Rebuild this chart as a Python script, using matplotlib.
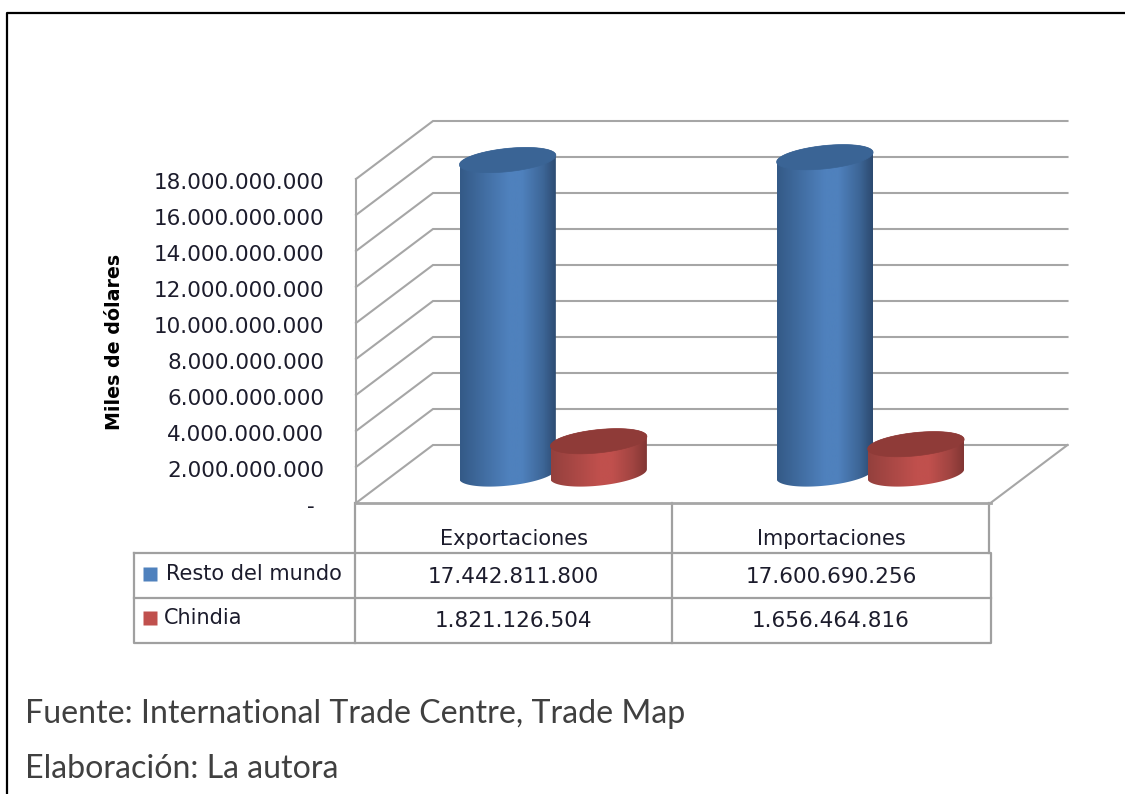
import numpy as np
import matplotlib
matplotlib.use('Agg')
import matplotlib.pyplot as plt
from matplotlib.patches import Polygon
from matplotlib.colors import LinearSegmentedColormap
from matplotlib.ticker import FuncFormatter
from matplotlib.transforms import ScaledTranslation

## data
categorias = ['Exportaciones', 'Importaciones']
resto_mundo = [17442811800, 17600690256]
chindia = [1821126504, 1656464816]
series_nombres = ['Resto del mundo', 'Chindia']
ticks = list(range(0, 18000000001, 2000000000))
eje_titulo = 'Miles de dólares'
fuente = 'Fuente: International Trade Centre, Trade Map'
elaboracion = 'Elaboración: La autora'

W, H = 1125, 794
TICK_FONT = 'DejaVu Sans'
NOTE_FONT = 'Lato'
TEXT_C = '#1c1c2c'


def box(x0, y_top, x1, y_bottom):
    # pixel box to figure fractions
    return [x0 / W, 1 - y_bottom / H, (x1 - x0) / W, (y_bottom - y_top) / H]


def miles(v, pos):
    if v == 0:
        return '-'
    return f'{int(v):,}'.replace(',', '.')


fig = plt.figure(figsize=(W / 100, H / 100), dpi=100, facecolor='white')

# page layer: frame, table, notes (in pixels)
page = fig.add_axes([0, 0, 1, 1], zorder=0)
page.set_xlim(0, W)
page.set_ylim(H, 0)
page.axis('off')
page.plot([7, 7, W], [H, 13, 13], color='black', lw=1.6)

# mid plane of the 3d box, cylinders stand on it
ax = fig.add_axes(box(394.5, 114, 1029, 510), zorder=2)
ax.set_xlim(0, 2)
ax.set_ylim(-2e9, 20e9)
ax.axis('off')
ux = 2 / 634.5
uy = 18e9 / 324
depth_x = 38.5 * ux
depth_y = 29 * uy

grid_c = '#a6a6a6'
for v in ticks:
    ax.plot([-depth_x, depth_x, 2 + depth_x], [v - depth_y, v + depth_y, v + depth_y],
            color=grid_c, lw=1.5, clip_on=False, zorder=1, solid_joinstyle='miter')
ax.plot([2 - depth_x, 2 + depth_x], [-depth_y, depth_y], color=grid_c, lw=1.5, clip_on=False, zorder=1)
ax.plot([-depth_x, 2 - depth_x], [-depth_y, -depth_y], color=grid_c, lw=2, clip_on=False, zorder=1)

# front axis with the tick labels
front = fig.add_axes(box(356, 179, 990.5, 503), zorder=1)
front.set_xlim(0, 2)
front.set_ylim(0, 18e9)
front.patch.set_alpha(0)
for s in ['top', 'right', 'bottom']:
    front.spines[s].set_visible(False)
front.spines['left'].set_color(grid_c)
front.spines['left'].set_linewidth(1.5)
front.set_xticks([])
front.set_yticks(ticks)
front.yaxis.set_major_formatter(FuncFormatter(miles))
front.tick_params(axis='y', length=0, pad=23, labelsize=15.5, labelcolor=TEXT_C)
for v, t in zip(ticks, front.get_yticklabels()):
    t.set_family(TICK_FONT)
    # labels sit a little lower than the lines, the dash further left
    shift = -9 if v == 0 else 0
    t.set_transform(t.get_transform() + ScaledTranslation(shift / 100, -2 / 100, fig.dpi_scale_trans))
page.text(114, 342, eje_titulo, rotation=90, ha='center', va='center', family=TICK_FONT,
          fontweight='bold', fontsize=13.7, color='black')

# cylinders
A, B, TILT = 48.5, 11.6, np.radians(6)
half_w = 48
t0 = np.arctan2(-B * np.sin(TILT), A * np.cos(TILT))


def elipse(cx, cy, t):
    # offsets are worked out in pixels then taken to data units
    dx = A * np.cos(t) * np.cos(TILT) - B * np.sin(t) * np.sin(TILT)
    dy = A * np.cos(t) * np.sin(TILT) + B * np.sin(t) * np.cos(TILT)
    return np.column_stack([cx + dx * ux, cy + dy * uy])


def cilindro(cat, offset, valor, stops, tapa, z):
    cx = cat + 0.5 + offset
    t_up = np.linspace(t0, t0 + np.pi, 80)
    t_down = np.linspace(t0 + np.pi, t0 + 2 * np.pi, 80)
    contorno = np.vstack([elipse(cx, 0, t_down), elipse(cx, valor, t_up)])
    cuerpo = Polygon(contorno, closed=True, transform=ax.transData, fc='none', ec='none')
    ax.add_patch(cuerpo)
    cmap = LinearSegmentedColormap.from_list('c', stops)
    half = half_w * ux
    img = ax.imshow(np.linspace(0, 1, 200).reshape(1, -1), cmap=cmap, aspect='auto',
                    extent=[cx - half, cx + half, -2e9, 20e9], zorder=z, interpolation='bilinear')
    img.set_clip_path(cuerpo)
    ax.add_patch(Polygon(elipse(cx, valor, np.linspace(0, 2 * np.pi, 120)), closed=True,
                         fc=tapa, ec=tapa, lw=0.5, zorder=z + 0.1, clip_on=False))


azul = [(0, '#345a87'), (0.5, '#4f81bd'), (0.64, '#4f81bd'), (0.86, '#3d6697'), (1, '#2c4a70')]
rojo = [(0, '#94403d'), (0.5, '#c0504d'), (0.64, '#c0504d'), (0.86, '#a04441'), (1, '#823634')]
for i in range(len(categorias)):
    cilindro(i, -0.1435, resto_mundo[i], azul, '#3a6495', 3 + i)
    cilindro(i, 0.1435, chindia[i], rojo, '#8f3b38', 3.5 + i)
ax.set_xlim(0, 2)
ax.set_ylim(-2e9, 20e9)

# data table
tab_c = '#a0a0a0'
col_x = [355, 672, 990]
page.plot([355, 355], [503, 643], color=tab_c, lw=1.6)
page.plot([672, 672], [503, 643], color=tab_c, lw=1.6)
page.plot([989, 989], [503, 553], color=tab_c, lw=1.6)
page.plot([134, 991, 991, 134, 134], [553, 553, 643, 643, 553], color=tab_c, lw=1.6)
page.plot([134, 991], [598, 598], color=tab_c, lw=1.6)
filas_y = [575, 619]
series = [resto_mundo, chindia]
colores = ['#4f81bd', '#c0504d']
label_x = [166, 164]
for k, nombre in enumerate(series_nombres):
    page.plot([150], [filas_y[k] - 1.5], marker='s', ms=10.5, color=colores[k], mec='none')
    page.text(label_x[k], filas_y[k] - 1, nombre, ha='left', va='center', family=TICK_FONT,
              fontsize=15, color=TEXT_C)
    for j in range(len(categorias)):
        page.text((col_x[j] + col_x[j + 1]) / 2, filas_y[k] + 2, miles(series[k][j], 0), ha='center', va='center',
                  family=TICK_FONT, fontsize=15.5, color=TEXT_C)
for j, cat in enumerate(categorias):
    page.text((col_x[j] + col_x[j + 1]) / 2, 539, cat, ha='center', va='center', family=TICK_FONT,
              fontsize=15, color=TEXT_C)

# notes
page.text(25, 714, fuente, ha='left', va='center', family=NOTE_FONT, fontsize=23.1, color='#404040')
page.text(25, 769, elaboracion, ha='left', va='center', family=NOTE_FONT, fontsize=23.1, color='#404040')

fig.savefig('out.png', dpi=100)
